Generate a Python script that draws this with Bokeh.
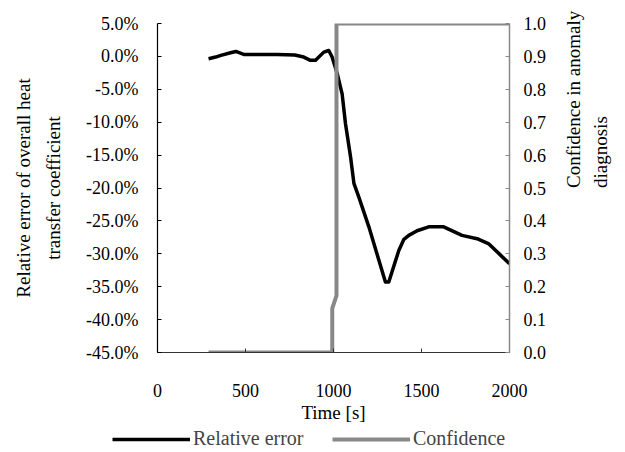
import math
from bokeh.plotting import figure
from bokeh.models import (Range1d, LinearAxis, FixedTicker, NumeralTickFormatter,
                          PrintfTickFormatter, Legend, LegendItem)
from bokeh.embed import file_html
from bokeh.resources import INLINE

# ---- data ----
time_err = [290, 330, 360, 415, 445, 490, 680, 780, 831, 869, 898, 945, 973, 992,
            1021, 1049, 1068, 1097, 1116, 1144, 1201, 1295, 1314, 1371, 1400, 1428,
            1475, 1541, 1626, 1730, 1816, 1883, 1949, 2000]
rel_err_pct = [-0.35, -0.1, 0.15, 0.55, 0.75, 0.3, 0.3, 0.2, -0.1, -0.6, -0.6, 0.65, 0.9, -0.1,
               -2.6, -5.7, -10.2, -15.3, -19.3, -21.4, -25.9, -34.3, -34.3, -29.5, -27.8, -27.2,
               -26.5, -25.9, -25.9, -27.2, -27.7, -28.5, -30.2, -31.5]
time_conf = [290, 993, 993, 1017, 1017, 2000]
confidence = [0.0, 0.0, 0.134, 0.173, 1.0, 1.0]

x_ticks = [0, 500, 1000, 1500, 2000]
err_ticks = [-0.45, -0.40, -0.35, -0.30, -0.25, -0.20, -0.15, -0.10, -0.05, 0.0, 0.05]
conf_ticks = [0.0, 0.1, 0.2, 0.3, 0.4, 0.5, 0.6, 0.7, 0.8, 0.9, 1.0]
legend_labels = ["Relative error", "Confidence"]

rel_err = [v / 100.0 for v in rel_err_pct]

FONT = "Liberation Serif"
TICK_SIZE = "18px"
TITLE_SIZE = "19px"
GRAY = "#888888"

p = figure(width=625, height=427, output_backend="svg", toolbar_location=None,
           x_range=Range1d(0, 2000), y_range=Range1d(-0.45, 0.05),
           min_border_left=157, min_border_right=116, min_border_top=23,
           min_border_bottom=75)
p.extra_y_ranges = {"conf": Range1d(0, 1)}
p.xgrid.visible = False
p.ygrid.visible = False
p.outline_line_color = None
p.background_fill_color = "white"
p.border_fill_color = "white"

HAS_ORIENT = "axis_label_orientation" in LinearAxis.properties()


def style_axis(ax, color, standoff):
    ax.major_tick_in = 4
    ax.major_tick_out = 0
    ax.minor_tick_in = 0
    ax.minor_tick_out = 0
    ax.minor_tick_line_color = None
    ax.axis_line_color = color
    ax.major_tick_line_color = color
    ax.axis_line_width = 1.2
    ax.major_label_text_font = FONT
    ax.major_label_text_font_size = TICK_SIZE
    ax.major_label_text_color = "black"
    ax.major_label_standoff = standoff
    ax.axis_label_text_font = FONT
    ax.axis_label_text_font_size = TITLE_SIZE
    ax.axis_label_text_font_style = "normal"
    ax.axis_label_text_color = "black"


def title_axis(text, side, standoff, range_name="default"):
    ax = LinearAxis(y_range_name=range_name, ticker=FixedTicker(ticks=[]),
                    axis_label=text)
    style_axis(ax, None, 0)
    ax.major_tick_in = 0
    ax.axis_label_standoff = standoff
    if side == "right" and HAS_ORIENT:
        ax.axis_label_orientation = math.pi / 2
    p.add_layout(ax, side)
    return ax


xa = p.xaxis[0]
xa.ticker = FixedTicker(ticks=x_ticks)
style_axis(xa, "#333333", 31)
xa.axis_label = "Time [s]"
xa.axis_label_standoff = 2

ya = p.yaxis[0]
ya.ticker = FixedTicker(ticks=err_ticks)
ya.formatter = NumeralTickFormatter(format="0.0%")
style_axis(ya, "black", 19)
ya.axis_label = "transfer coefficient"
ya.axis_label_standoff = 19

ra = LinearAxis(y_range_name="conf", ticker=FixedTicker(ticks=conf_ticks),
                formatter=PrintfTickFormatter(format="%.1f"),
                axis_label="Confidence in anomaly")
style_axis(ra, GRAY, 14)
ra.axis_line_width = 1.5
ra.axis_label_standoff = 24
if HAS_ORIENT:
    ra.axis_label_orientation = math.pi / 2
p.add_layout(ra, "right")

title_axis("Relative error of overall heat", "left", 7)
title_axis("diagnosis", "right", 3, "conf")

r_err = p.line(time_err, rel_err, color="black", line_width=3.5, line_join="round")
r_conf = p.line(time_conf, confidence, y_range_name="conf", color=GRAY, line_width=4)

# ---- legend strip below the chart (separate root, series lie outside its ranges) ----
lf = figure(width=625, height=25, output_backend="svg", toolbar_location=None,
            x_range=Range1d(0, 1), y_range=Range1d(0, 1),
            x_axis_location=None, y_axis_location=None, min_border=0,
            min_border_left=0, min_border_right=0, min_border_top=0, min_border_bottom=0)
lf.xgrid.visible = False
lf.ygrid.visible = False
lf.outline_line_color = None
lf.border_fill_color = "white"
l_err = lf.line(time_err, rel_err, color="black", line_width=3.5)
l_conf = lf.line(time_conf, confidence, color=GRAY, line_width=4)


def add_legend(label, renderer, x):
    lg = Legend(items=[LegendItem(label=label, renderers=[renderer])],
                location=(x, 2), orientation="horizontal",
                padding=0, margin=0, spacing=0, label_standoff=3,
                glyph_width=78, glyph_height=20, label_height=20,
                border_line_color=None, background_fill_alpha=0,
                label_text_font=FONT, label_text_font_size="20px")
    lf.add_layout(lg, "center")


add_legend(legend_labels[0], l_err, 112)
add_legend(legend_labels[1], l_conf, 332)

open("out.html", "w").write(file_html([p, lf], INLINE))
